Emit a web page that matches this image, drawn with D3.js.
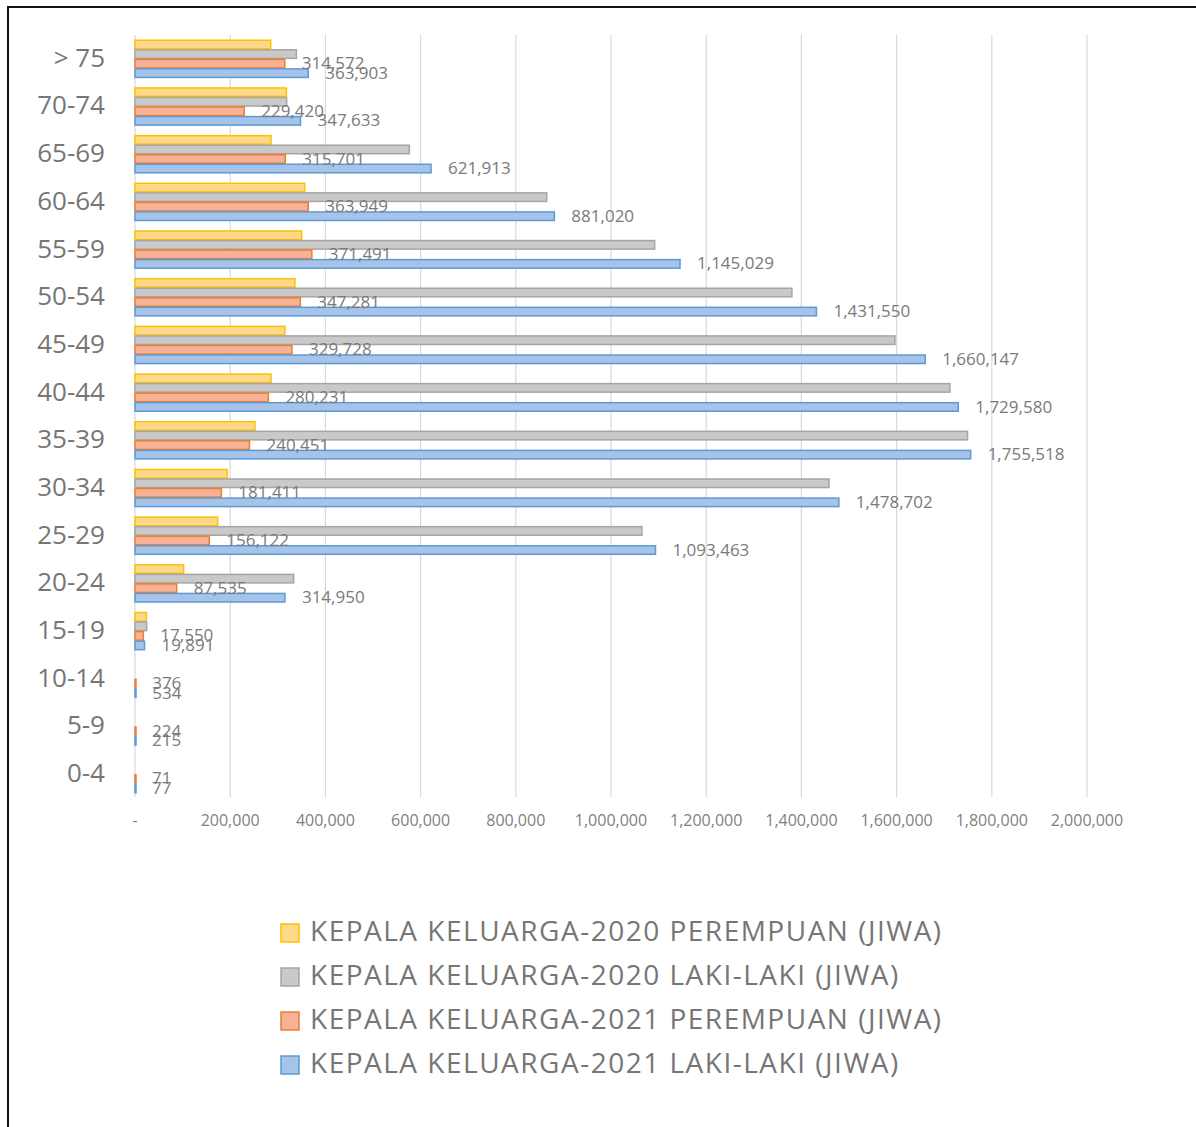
<!DOCTYPE html>
<html>
<head>
<meta charset="utf-8">
<script src="https://cdn.jsdelivr.net/npm/d3@7"></script>
<style>
  body { margin: 0; background: #fff; }
  svg { display: block; }
  text { font-family: "Open Sans", sans-serif; }
</style>
</head>
<body>
<div id="chart"></div>
<script>
// kelompok umur, dari atas ke bawah
var categories = ["> 75", "70-74", "65-69", "60-64", "55-59", "50-54", "45-49", "40-44",
                  "35-39", "30-34", "25-29", "20-24", "15-19", "10-14", "5-9", "0-4"];

var seriesNames = [
  "KEPALA KELUARGA-2020 PEREMPUAN (JIWA)",
  "KEPALA KELUARGA-2020 LAKI-LAKI (JIWA)",
  "KEPALA KELUARGA-2021 PEREMPUAN (JIWA)",
  "KEPALA KELUARGA-2021 LAKI-LAKI (JIWA)"
];

// 2020 values (no labels in the picture)
var kk2020P = [285000, 318000, 285700, 356500, 350000, 336000, 315000, 285700,
               252000, 194000, 173600, 102200, 23800, 0, 0, 0];
var kk2020L = [338900, 318600, 576300, 864900, 1091700, 1380000, 1596600, 1712000,
               1749000, 1458000, 1065000, 333300, 24500, 0, 0, 0];
// 2021 values, labelled in the picture
var kk2021P = [314572, 229420, 315701, 363949, 371491, 347281, 329728, 280231,
               240451, 181411, 156122, 87535, 17550, 376, 224, 71];
var kk2021L = [363903, 347633, 621913, 881020, 1145029, 1431550, 1660147, 1729580,
               1755518, 1478702, 1093463, 314950, 19891, 534, 215, 77];

var xTicks = [0, 200000, 400000, 600000, 800000, 1000000, 1200000, 1400000, 1600000, 1800000, 2000000];

var fills   = ["#ffd98a", "#c9c9c9", "#f5b297", "#a7c4e8"];
var strokes = ["#ffc000", "#a5a5a5", "#ed7d31", "#5b9bd5"];
var showLabel = [false, false, true, true];

var seriesValues = [kk2020P, kk2020L, kk2021P, kk2021L];

var width = 1196, height = 1127;
var svg = d3.select("#chart").append("svg")
  .attr("width", width)
  .attr("height", height);

// bingkai (only left/top visible, rest runs off the picture)
svg.append("rect")
  .attr("x", 8).attr("y", 7)
  .attr("width", width + 20).attr("height", height + 20)
  .attr("fill", "none").attr("stroke", "#111").attr("stroke-width", 2);

var x = d3.scaleLinear().domain([0, 2000000]).range([135, 1087]);
var y0 = d3.scaleBand().domain(categories).range([35, 798]);
var y1 = d3.scaleBand().domain(d3.range(4)).range([0, y0.bandwidth()]).paddingOuter(0.5);

// gridlines
svg.append("g").selectAll("line")
  .data(xTicks)
  .enter().append("line")
  .attr("x1", d => x(d)).attr("x2", d => x(d))
  .attr("y1", 35).attr("y2", 797)
  .attr("stroke", "#d9d9d9").attr("stroke-width", 1.2);

// x axis labels
svg.append("g").selectAll("text")
  .data(xTicks)
  .enter().append("text")
  .attr("x", d => x(d))
  .attr("y", 822)
  .attr("text-anchor", "middle")
  .attr("dominant-baseline", "middle")
  .attr("font-size", 16)
  .attr("fill", "#7f7f7f")
  .text(d => d === 0 ? "-" : d3.format(",")(d));

// y axis labels
svg.append("g").selectAll("text")
  .data(categories)
  .enter().append("text")
  .attr("x", 105)
  .attr("y", d => y0(d) + y0.bandwidth() / 2 + 1)
  .attr("text-anchor", "end")
  .attr("dominant-baseline", "middle")
  .attr("font-size", 26)
  .attr("fill", "#767676")
  .text(d => d);

// bars
var rows = [];
categories.forEach(function(c, i) {
  seriesValues.forEach(function(vals, s) {
    rows.push({cat: c, s: s, v: vals[i]});
  });
});

svg.append("g").selectAll("rect")
  .data(rows.filter(d => d.v > 0))
  .enter().append("rect")
  .attr("x", x(0))
  .attr("y", d => y0(d.cat) + y1(d.s) + 0.5)
  .attr("width", d => Math.max(x(d.v) - x(0), 1))
  .attr("height", y1.bandwidth() - 1)
  .attr("fill", d => fills[d.s])
  .attr("stroke", d => strokes[d.s])
  .attr("stroke-width", 1.5);

// data labels, only 2021
svg.append("g").selectAll("text")
  .data(rows.filter(d => showLabel[d.s]))
  .enter().append("text")
  .attr("x", d => x(d.v) + 17)
  .attr("y", d => y0(d.cat) + y1(d.s) + y1.bandwidth() / 2 + 1)
  .attr("dominant-baseline", "middle")
  .attr("font-size", 17)
  .attr("fill", "#7a7a7a")
  .text(d => d3.format(",")(d.v));

// legend
var legend = svg.append("g").selectAll("g")
  .data(seriesNames)
  .enter().append("g")
  .attr("transform", (d, i) => "translate(281," + (933 + i * 44) + ")");

legend.append("rect")
  .attr("x", 0).attr("y", -9)
  .attr("width", 18).attr("height", 18)
  .attr("fill", (d, i) => fills[i])
  .attr("stroke", (d, i) => strokes[i])
  .attr("stroke-width", 1.5);

legend.append("text")
  .attr("x", 29)
  .attr("y", 1)
  .attr("dominant-baseline", "middle")
  .attr("font-size", 28)
  .attr("letter-spacing", 1.5)
  .attr("fill", "#767676")
  .text(d => d);
</script>
</body>
</html>
